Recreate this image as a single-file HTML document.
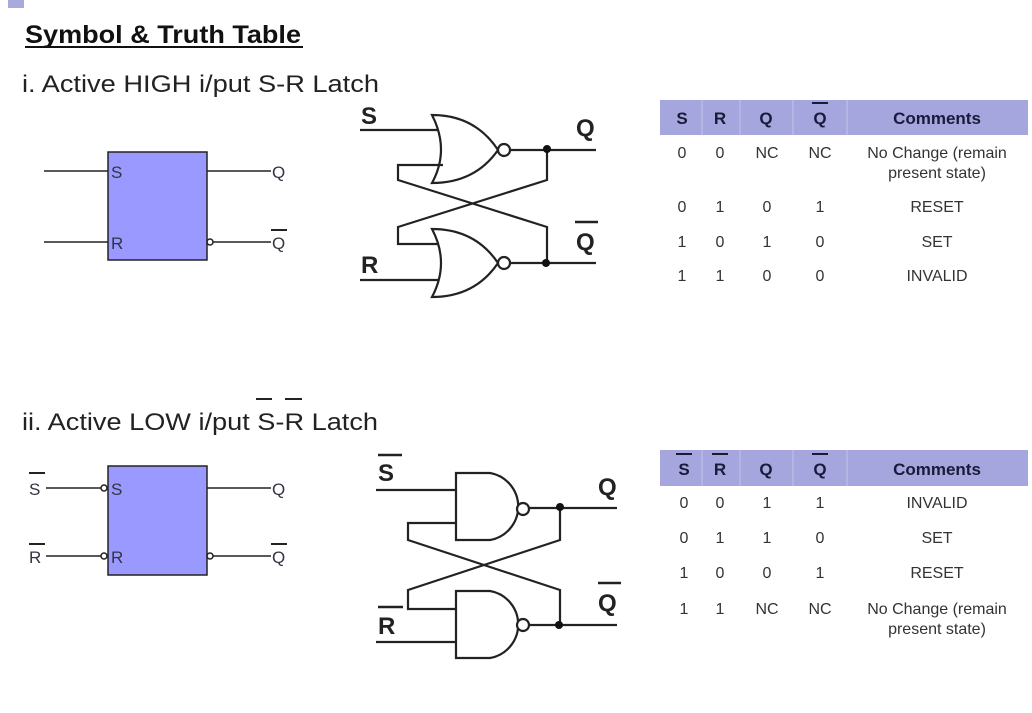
<!DOCTYPE html>
<html><head><style>
body{margin:0;background:#fff;}
svg text{font-family:"Liberation Sans",Arial,sans-serif;}
</style></head><body>
<svg width="1032" height="708" viewBox="0 0 1032 708" xmlns="http://www.w3.org/2000/svg">
<rect x="8" y="0" width="16" height="8" fill="#a9a9dd"/>
<text x="25" y="43" font-size="25" font-weight="bold" fill="#111" textLength="276" lengthAdjust="spacingAndGlyphs">Symbol &amp; Truth Table</text>
<line x1="25" y1="47" x2="303" y2="47" stroke="#111" stroke-width="2"/>
<text x="22" y="92" font-size="24" fill="#222" textLength="357" lengthAdjust="spacingAndGlyphs">i. Active HIGH i/put S-R Latch</text>

<!-- Block 1 -->
<g stroke="#222" stroke-width="1.5" fill="none">
<rect x="108" y="152" width="99" height="108" fill="#9999ff"/>
<line x1="44" y1="171" x2="108" y2="171"/>
<line x1="44" y1="242" x2="108" y2="242"/>
<line x1="207" y1="171" x2="271" y2="171"/>
<circle cx="210" cy="242" r="3"/>
<line x1="213" y1="242" x2="271" y2="242"/>
<line x1="271" y1="230" x2="287" y2="230" stroke-width="2"/>
</g>
<g font-size="17" fill="#334">
<text x="111" y="178">S</text><text x="111" y="249">R</text>
<text x="272" y="178">Q</text><text x="272" y="249">Q</text>
</g>

<!-- NOR latch -->
<g stroke="#222" stroke-width="2.2" fill="none">
<line x1="360" y1="130" x2="445" y2="130"/>
<path d="M432,115 Q475,115 498,150 Q475,183 432,183 Q450,150 432,115 Z" fill="#fff"/>
<circle cx="504" cy="150" r="6" fill="#fff"/>
<line x1="510" y1="150" x2="596" y2="150"/>
<polyline points="443,165 398,165 398,180 547,227 547,263"/>
<polyline points="547,150 547,180 398,227 398,244 443,244"/>
<line x1="360" y1="280" x2="443" y2="280"/>
<path d="M432,229 Q475,229 498,263 Q475,297 432,297 Q450,263 432,229 Z" fill="#fff"/>
<circle cx="504" cy="263" r="6" fill="#fff"/>
<line x1="510" y1="263" x2="596" y2="263"/>
<line x1="575" y1="222" x2="598" y2="222" stroke-width="2.5"/>
</g>
<circle cx="547" cy="149" r="4" fill="#111"/>
<circle cx="546" cy="263" r="4" fill="#111"/>
<g font-size="24" font-weight="bold" fill="#222">
<text x="361" y="124">S</text><text x="576" y="136">Q</text>
<text x="576" y="250">Q</text><text x="361" y="273">R</text>
</g>

<!-- Table 1 -->
<rect x="660" y="100" width="368" height="35" fill="#a6a6de"/>
<g stroke="#c4c4ea" stroke-width="1"><line x1="702" y1="100" x2="702" y2="135"/><line x1="740" y1="100" x2="740" y2="135"/><line x1="793" y1="100" x2="793" y2="135"/><line x1="847" y1="100" x2="847" y2="135"/></g>
<g font-size="17" font-weight="bold" fill="#1a1a3a" text-anchor="middle">
<text x="682" y="124">S</text><text x="720" y="124">R</text><text x="766" y="124">Q</text><text x="820" y="124">Q</text><text x="937" y="124">Comments</text>
</g>
<line x1="812" y1="103" x2="828" y2="103" stroke="#1a1a3a" stroke-width="2"/>
<g font-size="16" fill="#333" text-anchor="middle">
<text x="682" y="158">0</text><text x="720" y="158">0</text><text x="767" y="158">NC</text><text x="820" y="158">NC</text><text x="937" y="158">No Change (remain</text><text x="937" y="178">present state)</text>
<text x="682" y="212">0</text><text x="720" y="212">1</text><text x="767" y="212">0</text><text x="820" y="212">1</text><text x="937" y="212">RESET</text>
<text x="682" y="247">1</text><text x="720" y="247">0</text><text x="767" y="247">1</text><text x="820" y="247">0</text><text x="937" y="247">SET</text>
<text x="682" y="281">1</text><text x="720" y="281">1</text><text x="767" y="281">0</text><text x="820" y="281">0</text><text x="937" y="281">INVALID</text>
</g>

<!-- Section ii -->
<text x="22" y="430" font-size="24" fill="#222" textLength="356" lengthAdjust="spacingAndGlyphs">ii. Active LOW i/put S-R Latch</text>
<g stroke="#222" stroke-width="2"><line x1="256" y1="399" x2="272" y2="399"/><line x1="285" y1="399" x2="302" y2="399"/></g>

<!-- Block 2 -->
<g stroke="#222" stroke-width="1.5" fill="none">
<rect x="108" y="466" width="99" height="109" fill="#9999ff"/>
<line x1="46" y1="488" x2="101" y2="488"/>
<circle cx="104" cy="488" r="3"/>
<line x1="46" y1="556" x2="101" y2="556"/>
<circle cx="104" cy="556" r="3"/>
<line x1="207" y1="488" x2="271" y2="488"/>
<circle cx="210" cy="556" r="3"/>
<line x1="213" y1="556" x2="271" y2="556"/>
<line x1="271" y1="544" x2="287" y2="544" stroke-width="2"/>
<line x1="29" y1="473" x2="45" y2="473" stroke-width="2"/>
<line x1="29" y1="544" x2="45" y2="544" stroke-width="2"/>
</g>
<g font-size="17" fill="#334">
<text x="111" y="495">S</text><text x="111" y="563">R</text>
<text x="272" y="495">Q</text><text x="272" y="563">Q</text>
<text x="29" y="495">S</text><text x="29" y="563">R</text>
</g>

<!-- NAND latch -->
<g stroke="#222" stroke-width="2.2" fill="none">
<line x1="376" y1="490" x2="456" y2="490"/>
<path d="M456,473 L490,473 A34,34 0 0 1 490,540 L456,540 Z" fill="#fff"/>
<circle cx="523" cy="509" r="6" fill="#fff"/>
<line x1="529" y1="508" x2="617" y2="508"/>
<polyline points="456,523 408,523 408,540 560,590 560,625"/>
<polyline points="560,508 560,540 408,590 408,609 456,609"/>
<line x1="376" y1="642" x2="456" y2="642"/>
<path d="M456,591 L490,591 A34,34 0 0 1 490,658 L456,658 Z" fill="#fff"/>
<circle cx="523" cy="625" r="6" fill="#fff"/>
<line x1="529" y1="625" x2="617" y2="625"/>
<line x1="598" y1="583" x2="621" y2="583" stroke-width="2.5"/>
<line x1="378" y1="455" x2="402" y2="455" stroke-width="2.5"/>
<line x1="378" y1="607" x2="403" y2="607" stroke-width="2.5"/>
</g>
<circle cx="560" cy="507" r="4" fill="#111"/>
<circle cx="559" cy="625" r="4" fill="#111"/>
<g font-size="24" font-weight="bold" fill="#222">
<text x="378" y="481">S</text><text x="598" y="495">Q</text>
<text x="598" y="611">Q</text><text x="378" y="634">R</text>
</g>

<!-- Table 2 -->
<rect x="660" y="450" width="368" height="36" fill="#a6a6de"/>
<g stroke="#c4c4ea" stroke-width="1"><line x1="702" y1="450" x2="702" y2="486"/><line x1="740" y1="450" x2="740" y2="486"/><line x1="793" y1="450" x2="793" y2="486"/><line x1="847" y1="450" x2="847" y2="486"/></g>
<g font-size="17" font-weight="bold" fill="#1a1a3a" text-anchor="middle">
<text x="684" y="475">S</text><text x="720" y="475">R</text><text x="766" y="475">Q</text><text x="820" y="475">Q</text><text x="937" y="475">Comments</text>
</g>
<g stroke="#1a1a3a" stroke-width="2"><line x1="676" y1="454" x2="692" y2="454"/><line x1="712" y1="454" x2="728" y2="454"/><line x1="812" y1="454" x2="828" y2="454"/></g>
<g font-size="16" fill="#333" text-anchor="middle">
<text x="684" y="508">0</text><text x="720" y="508">0</text><text x="767" y="508">1</text><text x="820" y="508">1</text><text x="937" y="508">INVALID</text>
<text x="684" y="543">0</text><text x="720" y="543">1</text><text x="767" y="543">1</text><text x="820" y="543">0</text><text x="937" y="543">SET</text>
<text x="684" y="578">1</text><text x="720" y="578">0</text><text x="767" y="578">0</text><text x="820" y="578">1</text><text x="937" y="578">RESET</text>
<text x="684" y="614">1</text><text x="720" y="614">1</text><text x="767" y="614">NC</text><text x="820" y="614">NC</text><text x="937" y="614">No Change (remain</text><text x="937" y="634">present state)</text>
</g>
</svg>
</body></html>
